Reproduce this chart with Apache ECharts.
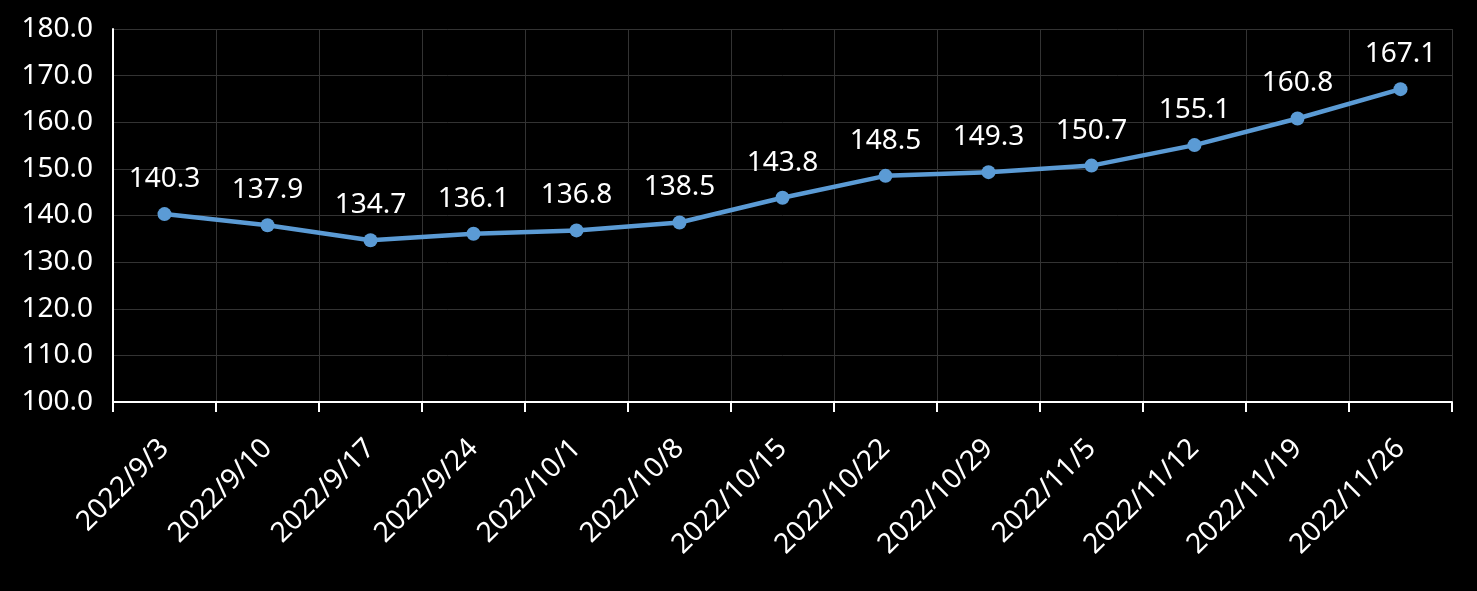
<!DOCTYPE html>
<html><head><meta charset="utf-8">
<script src="https://cdn.jsdelivr.net/npm/echarts@6/dist/echarts.min.js"></script>
<style>html,body{margin:0;padding:0;background:#000;}#c{width:1477px;height:591px;}</style>
</head><body><div id="c"></div>
<script>
var categories = ['2022/9/3','2022/9/10','2022/9/17','2022/9/24','2022/10/1','2022/10/8','2022/10/15','2022/10/22','2022/10/29','2022/11/5','2022/11/12','2022/11/19','2022/11/26'];
var values = [140.3,137.9,134.7,136.1,136.8,138.5,143.8,148.5,149.3,150.7,155.1,160.8,167.1];
var chart = echarts.init(document.getElementById('c'));
var font = '"Noto Sans", "Open Sans", sans-serif';
chart.setOption({
  backgroundColor: '#000',
  animation: false,
  grid: {left: 113, right: 25, top: 29, bottom: 189},
  xAxis: {
    type: 'category', data: categories, boundaryGap: true,
    axisLine: {lineStyle: {color: '#fff', width: 2}},
    axisTick: {show: true, length: 10, lineStyle: {color: '#fff', width: 2}},
    splitLine: {show: true, lineStyle: {color: '#333', width: 1}},
    axisLabel: {color: '#fff', fontSize: 28, rotate: 45, margin: 42, fontFamily: font, interval: 0}
  },
  yAxis: {
    type: 'value', min: 100, max: 180, interval: 10,
    axisLine: {show: true, lineStyle: {color: '#fff', width: 2}},
    axisTick: {show: false},
    splitLine: {show: true, lineStyle: {color: '#333', width: 1}},
    axisLabel: {color: '#fff', fontSize: 28, margin: 20, fontFamily: font,
      formatter: function(v){return v.toFixed(1);}}
  },
  series: [{
    type: 'line', data: values,
    symbol: 'circle', symbolSize: 14,
    lineStyle: {color: '#5b9bd5', width: 4.5},
    itemStyle: {color: '#5b9bd5'},
    label: {show: true, position: 'top', distance: 14, color: '#fff', fontSize: 28, fontFamily: font,
      formatter: function(p){return p.value.toFixed(1);}}
  }]
});
</script></body></html>
